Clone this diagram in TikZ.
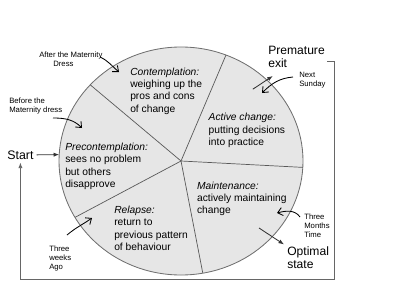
\documentclass[tikz,border=0pt]{standalone}
\usepackage{fontspec}
\setmainfont{Liberation Sans}
\usetikzlibrary{arrows.meta,shapes.geometric}
\definecolor{wheelfill}{HTML}{E6E6E6}
\definecolor{wheelrim}{HTML}{707070}

\begin{document}
\begin{tikzpicture}[
  x=1cm, y=1cm,
  wheelshape/.style={ellipse, draw=wheelrim, fill=wheelfill, line width=0.6pt, minimum width=6.1cm, minimum height=5.7cm, inner sep=0pt, outer sep=0pt},
  divider/.style={draw=black!65, line width=0.5pt},
  stagetext/.style={anchor=north west, inner sep=0pt, align=left, font=\fontsize{7.3}{8.7}\selectfont},
  notetext/.style={anchor=north west, inner sep=0pt, align=left, font=\fontsize{5.5}{6.4}\selectfont},
  endtext/.style={anchor=north west, inner sep=0pt, align=left, font=\fontsize{8.6}{9.4}\selectfont},
  flow/.style={draw=black!80, line width=0.6pt, -{Latex[length=4pt,width=3pt]}},
  loopline/.style={draw=black!60, line width=0.6pt},
  scribble/.style={draw=black, line width=0.6pt, -{Straight Barb[angle=80:4.5pt]}}
]
  \useasboundingbox (0,0) rectangle (10,7.5);

  % ==================== WHEEL ====================
  \node[wheelshape] (wheel) at (4.525, 3.475) {};
  \foreach \a in {67, 140, 208, 281, 357}
    \draw[divider] (wheel.center) -- (wheel.\a);

  % Stages
  \node[stagetext] (contemp) at (3.25, 5.81) {\textit{Contemplation:}\\weighing up the\\pros and cons\\of change};
  \node[stagetext] (active) at (5.21, 4.67) {\textit{Active change:}\\putting decisions\\into practice};
  \node[stagetext] (precontemp) at (1.625, 3.925) {\textit{Precontemplation:}\\sees no problem\\but others\\disapprove};
  \node[stagetext] (relapse) at (2.85, 2.35) {\textit{Relapse:}\\return to\\previous pattern\\of behaviour};
  \node[stagetext] (maint) at (4.92, 2.96) {\textit{Maintenance:}\\actively maintaining\\change};

  % ==================== ENTRY / EXITS ====================
  \node[font=\fontsize{8.8}{10}\selectfont, inner sep=2pt] (start) at (0.51, 3.625) {Start};
  \node[endtext] (pexit) at (6.7, 6.35) {Premature\\exit};
  \node[endtext] (optimal) at (7.175, 1.34) {Optimal\\state};

  \draw[flow] (start) -- (wheel.177);

  \coordinate (exit_tail) at (6.32, 5.27);
  \coordinate (exit_tip) at (6.82, 5.6);
  \draw[flow] (exit_tail) -- (exit_tip);

  \coordinate (opt_tail) at (6.475, 1.8);
  \draw[flow, shorten >=2.5pt] (opt_tail) -- (optimal.north west);

  % loop back from premature exit to start
  \coordinate (loop_corner) at (8.35, 0.525);
  \draw[loopline, -{Latex[length=4pt,width=3pt]}] ([xshift=1.5pt, yshift=-3.3pt]pexit.east) -| (loop_corner) -| (start.south);

  % ==================== HANDWRITTEN NOTES ====================
  \node[notetext] (after_note) at (0.975, 6.21) {After the Maternity\\\hspace{10pt}Dress};
  \node[notetext] (before_note) at (0.225, 5.07) {Before the\\Maternity dress};
  \node[notetext] (sunday_note) at (7.475, 5.695) {Next\\Sunday};
  \node[notetext] (weeks_note) at (1.225, 1.37) {Three\\weeks\\Ago};
  \node[notetext] (months_note) at (7.6, 2.17) {Three\\Months\\Time};

  \coordinate (after_tail) at (2.5, 6.075);
  \coordinate (after_tip) at (2.975, 5.7);
  \coordinate (before_tail) at (1.325, 4.55);
  \coordinate (before_tip) at (2.05, 4.3);
  \coordinate (sunday_tail) at (7.325, 5.575);
  \coordinate (sunday_tip) at (6.55, 5.175);
  \coordinate (weeks_tail) at (1.675, 1.625);
  \coordinate (weeks_tip) at (2.3, 2.05);
  \coordinate (months_tail) at (7.5, 2.075);
  \coordinate (months_tip) at (6.925, 2.175);

  \draw[scribble] (after_tail) to[out=-25, in=140] (after_tip);
  \draw[scribble] (before_tail) to[out=0, in=135] (before_tip);
  \draw[scribble] (sunday_tail) to[out=185, in=45] (sunday_tip);
  \draw[scribble] (weeks_tail) to[out=40, in=215] (weeks_tip);
  \draw[scribble] (months_tail) to[out=125, in=15] (months_tip);

\end{tikzpicture}
\end{document}
